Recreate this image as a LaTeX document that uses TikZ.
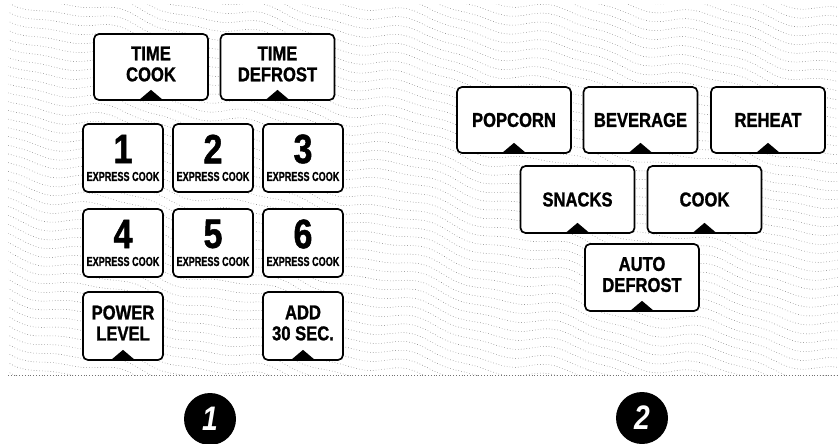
\documentclass[tikz,border=0pt]{standalone}
\usepackage{fontspec}
\setmainfont{Liberation Sans}[FakeStretch=0.83, BoldFeatures={FakeBold=1.2}]
\newfontfamily\smallcond{Liberation Sans}[FakeStretch=0.7, BoldFeatures={FakeBold=0.8}]
\usetikzlibrary{calc}

\tikzset{
  key/.style={draw, fill=white, line width=1.7pt, rounded corners=5pt,
    minimum width=114pt, minimum height=66pt, inner sep=0pt},
  numkey/.style={key, minimum width=80pt, minimum height=68pt},
  keytext/.style={align=center, inner sep=0pt,
    font=\fontsize{20}{21}\selectfont\bfseries},
  digit/.style={inner sep=0pt, font=\fontsize{41}{41}\selectfont\bfseries},
  express/.style={inner sep=0pt, font=\smallcond\fontsize{13}{13}\selectfont\bfseries},
  badge/.style={circle, fill=black, minimum size=52pt, inner sep=0pt, text=white,
    font=\fontsize{34}{34}\selectfont\bfseries\itshape},
  texture/.style={black!55, line width=0.5pt, dash pattern=on 0.6pt off 2.2pt}
}
% small black tab at the bottom of a key
\newcommand\pointer[1]{\fill ($(#1.south)+(-13,0)$) -- ($(#1.south)+(0,-11)$) -- ($(#1.south)+(13,0)$) -- cycle;}

\begin{document}
\begin{tikzpicture}[x=1pt,y=-1pt]
\useasboundingbox (0,0) rectangle (838,444);

% dotted wave background
\begin{scope}
\clip (8,5) rectangle (838,375);
\foreach \b in {-200,-191,...,380}
  \draw[texture] plot[domain=0:838, samples=100, smooth] (\x, {\b + 0.22*\x + 5*sin(2.4*\x) + 2*sin(5.3*\x+\b)});
\end{scope}
\draw[texture] (8,375) -- (838,375);

% panel 1
\node[key] (tcook) at (151,67) {};
\node[keytext, yshift=3pt] (tcook-t) at (tcook) {TIME\\COOK};
\pointer{tcook}
\node[key] (tdef) at (277.5,67) {};
\node[keytext, yshift=3pt] (tdef-t) at (tdef) {TIME\\DEFROST};
\pointer{tdef}

\foreach \n/\px/\py in {1/123/158, 2/213/158, 3/303/158, 4/123/243, 5/213/243, 6/303/243} {
  \node[numkey] (k\n) at (\px,\py) {};
  \node[digit] (k\n-d) at ($(k\n)+(0,-9)$) {\n};
  \node[express] (k\n-e) at ($(k\n)+(0,18.5)$) {EXPRESS COOK};
}

\node[numkey] (power) at (123,326) {};
\node[keytext, yshift=3pt] (power-t) at (power) {POWER\\LEVEL};
\pointer{power}
\node[numkey] (add) at (303,326) {};
\node[keytext, yshift=3pt] (add-t) at (add) {ADD\\30 SEC.};
\pointer{add}

\node[badge] (one) at (210,419) {1};

% panel 2
\node[key] (popcorn) at (514,120) {};
\node[keytext] (popcorn-t) at (popcorn) {POPCORN};
\pointer{popcorn}
\node[key] (beverage) at (640.5,120) {};
\node[keytext] (beverage-t) at (beverage) {BEVERAGE};
\pointer{beverage}
\node[key] (reheat) at (768,120) {};
\node[keytext] (reheat-t) at (reheat) {REHEAT};
\pointer{reheat}

\node[key, minimum height=67pt] (snacks) at (577.5,199.5) {};
\node[keytext] (snacks-t) at (snacks) {SNACKS};
\pointer{snacks}
\node[key, minimum height=67pt] (cook) at (704.5,199.5) {};
\node[keytext] (cook-t) at (cook) {COOK};
\pointer{cook}

\node[key, minimum height=67pt] (auto) at (642,277.5) {};
\node[keytext, yshift=3pt] (auto-t) at (auto) {AUTO\\DEFROST};
\pointer{auto}

\node[badge] (two) at (642,418) {2};
\end{tikzpicture}
\end{document}
